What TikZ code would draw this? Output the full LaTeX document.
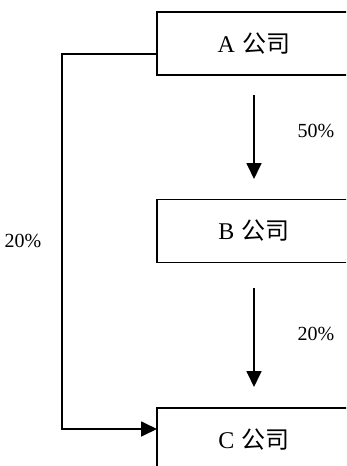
\documentclass[tikz,border=0pt]{standalone}
\usepackage{fontspec}
\setmainfont{Liberation Serif}
\newfontfamily\cjk{Noto Sans CJK SC}
\usetikzlibrary{arrows.meta}
\begin{document}
\begin{tikzpicture}[x=1pt,y=-1pt,
  company/.style={draw,line width=1.8pt,minimum width=194pt,minimum height=63pt,inner sep=0pt,font=\fontsize{24}{28}\selectfont},
  link/.style={line width=1.8pt,-{Triangle[width=15pt,length=16pt]}},
  pct/.style={font=\fontsize{20}{24}\selectfont,inner sep=0pt}]
\useasboundingbox (0,0) rectangle (346,466);
\clip (0,0) rectangle (346,466);
\node[company] (A) at (254,43.5) {A\hspace{0.3em}{\cjk 公司}};
\node[company] (B) at (254,231) {B\hspace{0.3em}{\cjk 公司}};
\node[company] (C) at (254,439.5) {C\hspace{0.3em}{\cjk 公司}};
\coordinate (a1) at (157,54);
\coordinate (c1) at (157,429);
\coordinate (k1) at (62,54);
\coordinate (k2) at (62,429);
\coordinate (s1) at (254,95);
\coordinate (e1) at (254,179);
\coordinate (s2) at (254,288);
\coordinate (e2) at (254,387);
\draw[link] (a1) -- (k1) -- (k2) -- (c1);
\draw[link] (s1) -- (e1);
\draw[link] (s2) -- (e2);
\node[pct] (p1) at (316,131) {50\%};
\node[pct] (p2) at (316,334) {20\%};
\node[pct] (p3) at (23,241) {20\%};
\end{tikzpicture}
\end{document}
